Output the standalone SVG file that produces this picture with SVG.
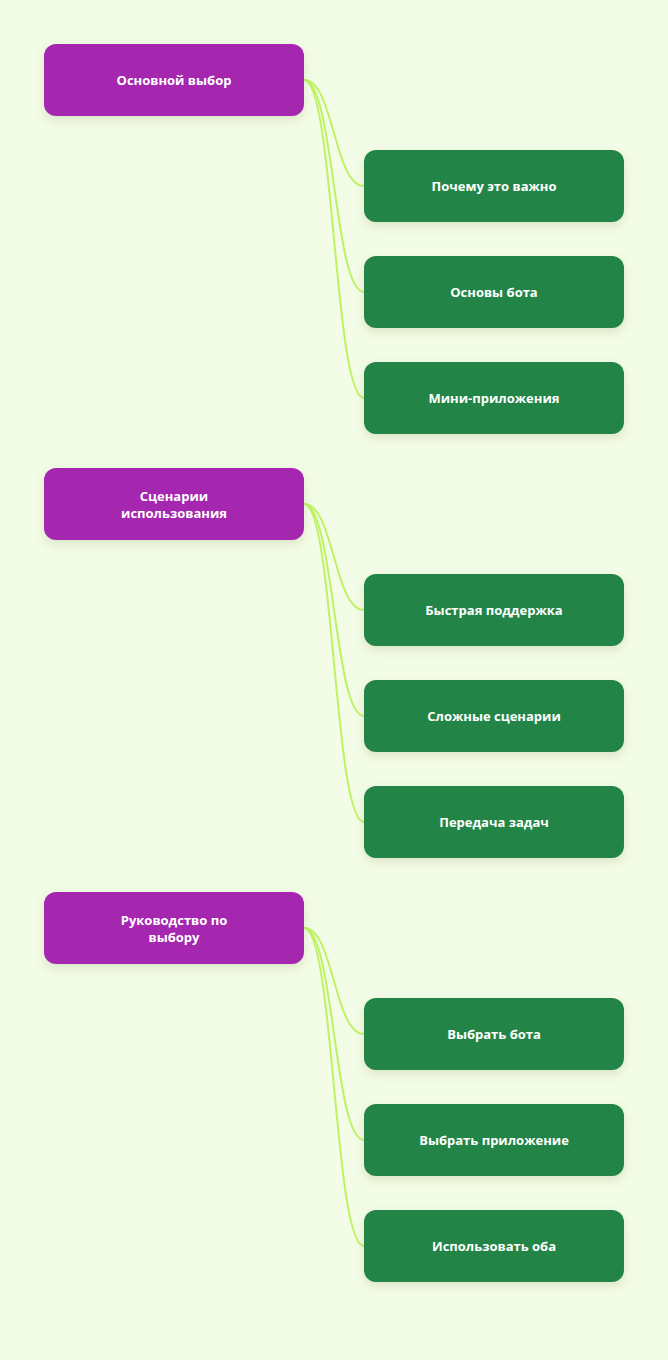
<svg xmlns="http://www.w3.org/2000/svg" width="668" height="1360" viewBox="0 0 668 1360">
<defs>
<filter id="sh" x="-20%" y="-30%" width="140%" height="170%">
<feDropShadow dx="0" dy="4" stdDeviation="5" flood-color="#6b7a40" flood-opacity="0.18"/>
</filter>
<style>
.p{fill:#A526AF;filter:url(#sh)}
.g{fill:#218546;filter:url(#sh)}
.t{fill:#fff;font-family:"Open Sans","Noto Sans",sans-serif;font-weight:700;font-size:13px;text-anchor:middle;dominant-baseline:central}
.c{fill:none;stroke:#BEF264;stroke-width:2}
</style>
</defs>
<rect width="668" height="1360" fill="#F3FCE6"/>
<g id="connectors">
<path class="c" d="M304,80 C334,80 334,186 364,186"/>
<path class="c" d="M304,80 C334,80 334,292 364,292"/>
<path class="c" d="M304,80 C334,80 334,398 364,398"/>
<path class="c" d="M304,504 C334,504 334,610 364,610"/>
<path class="c" d="M304,504 C334,504 334,716 364,716"/>
<path class="c" d="M304,504 C334,504 334,822 364,822"/>
<path class="c" d="M304,928 C334,928 334,1034 364,1034"/>
<path class="c" d="M304,928 C334,928 334,1140 364,1140"/>
<path class="c" d="M304,928 C334,928 334,1246 364,1246"/>
</g>
<g id="n1"><rect class="p" x="44" y="44" width="260" height="72" rx="12"/><text class="t" x="174" y="80">Основной выбор</text></g>
<g id="n1a"><rect class="g" x="364" y="150" width="260" height="72" rx="12"/><text class="t" x="494" y="186">Почему это важно</text></g>
<g id="n1b"><rect class="g" x="364" y="256" width="260" height="72" rx="12"/><text class="t" x="494" y="292">Основы бота</text></g>
<g id="n1c"><rect class="g" x="364" y="362" width="260" height="72" rx="12"/><text class="t" x="494" y="398">Мини-приложения</text></g>
<g id="n2"><rect class="p" x="44" y="468" width="260" height="72" rx="12"/><text class="t" x="174" y="496">Сценарии</text><text class="t" x="174" y="513">использования</text></g>
<g id="n2a"><rect class="g" x="364" y="574" width="260" height="72" rx="12"/><text class="t" x="494" y="610">Быстрая поддержка</text></g>
<g id="n2b"><rect class="g" x="364" y="680" width="260" height="72" rx="12"/><text class="t" x="494" y="716">Сложные сценарии</text></g>
<g id="n2c"><rect class="g" x="364" y="786" width="260" height="72" rx="12"/><text class="t" x="494" y="822">Передача задач</text></g>
<g id="n3"><rect class="p" x="44" y="892" width="260" height="72" rx="12"/><text class="t" x="174" y="920">Руководство по</text><text class="t" x="174" y="937">выбору</text></g>
<g id="n3a"><rect class="g" x="364" y="998" width="260" height="72" rx="12"/><text class="t" x="494" y="1034">Выбрать бота</text></g>
<g id="n3b"><rect class="g" x="364" y="1104" width="260" height="72" rx="12"/><text class="t" x="494" y="1140">Выбрать приложение</text></g>
<g id="n3c"><rect class="g" x="364" y="1210" width="260" height="72" rx="12"/><text class="t" x="494" y="1246">Использовать оба</text></g>
</svg>
